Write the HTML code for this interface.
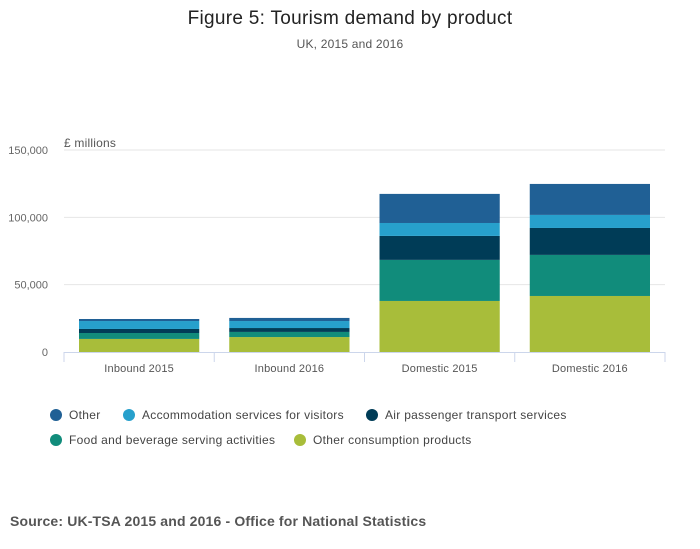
<!DOCTYPE html>
<html><head><meta charset="utf-8"><style>
body{margin:0;background:#fff;font-family:"Liberation Sans",sans-serif;}
#wrap{position:relative;width:700px;height:549px;overflow:hidden;}
</style></head><body>
<div id="wrap">
<svg id="chart" width="700" height="549">
<text x="350" y="24" text-anchor="middle" font-size="19" letter-spacing="0.3" fill="#222">Figure 5: Tourism demand by product</text>
<text x="350" y="48" text-anchor="middle" font-size="12" letter-spacing="0.2" fill="#555">UK, 2015 and 2016</text>
<text x="64" y="147" font-size="12" letter-spacing="0.2" fill="#555">£ millions</text>
<g id="grid"></g><g id="bars"></g><g id="axis"></g>
<g font-size="12" letter-spacing="0.3" fill="#444">
<g><circle cx="56" cy="415" r="6" fill="#206095"/><text x="69" y="419">Other</text></g>
<g><circle cx="129" cy="415" r="6" fill="#27a0cc"/><text x="142" y="419">Accommodation services for visitors</text></g>
<g><circle cx="372" cy="415" r="6" fill="#003c57"/><text x="385" y="419">Air passenger transport services</text></g>
<g><circle cx="56" cy="440" r="6" fill="#118c7b"/><text x="69" y="444">Food and beverage serving activities</text></g>
<g><circle cx="300" cy="440" r="6" fill="#a8bd3a"/><text x="313" y="444">Other consumption products</text></g>
</g>
<text x="10" y="526" font-size="14" letter-spacing="0.15" font-weight="bold" fill="#555">Source: UK-TSA 2015 and 2016 - Office for National Statistics</text>
</svg>
</div>
<script>
const categories=["Inbound 2015","Inbound 2016","Domestic 2015","Domestic 2016"];
const otherConsumption=[9.7,11.1,37.9,41.6];
const foodBeverage=[4.4,3.8,30.5,30.5];
const airPassenger=[3.0,2.9,17.8,20.0];
const accommodation=[5.9,5.2,9.6,9.7];
const other=[1.5,2.3,21.6,23.0];
const yTicks=[0,50000,100000,150000];
const yTickLabels=["0","50,000","100,000","150,000"];
const NS="http://www.w3.org/2000/svg";
const x0=64,x1=665,yBase=352,yTop=150,yMax=150000;
const y=v=>yBase-(v/yMax)*(yBase-yTop);
const band=(x1-x0)/categories.length;
const bx=i=>x0+i*band+15;
const bw=band-30;
function mk(tag,attrs,parent){const e=document.createElementNS(NS,tag);for(const k in attrs)e.setAttribute(k,attrs[k]);parent.appendChild(e);return e;}
const grid=document.getElementById('grid'),bars=document.getElementById('bars'),axis=document.getElementById('axis');
yTicks.forEach((t,i)=>{
  if(t>0){const l=mk('line',{x1:x0,x2:x1,y1:y(t),y2:y(t),stroke:'#e6e6e6'},grid);
  
  }
  const tx=mk('text',{x:48,y:y(t)+4,'text-anchor':'end','font-size':11,fill:'#666'},axis);
  tx.textContent=yTickLabels[i];
  
  
});
const series=[[otherConsumption,'#a8bd3a','other-consumption'],[foodBeverage,'#118c7b','food-beverage'],[airPassenger,'#003c57','air-passenger'],[accommodation,'#27a0cc','accommodation'],[other,'#206095','other']];
categories.forEach((c,i)=>{
  let cum=0;
  series.forEach(s=>{
    const v=s[0][i]*1000;
    const r=mk('rect',{x:bx(i),width:bw,y:y(cum+v),height:y(cum)-y(cum+v),fill:s[1]},bars);
    
    
    cum+=v;
  });
  const t=mk('text',{x:x0+i*band+band/2,y:372,'text-anchor':'middle','font-size':11,'letter-spacing':0.2,fill:'#555'},axis);
  t.textContent=c;
  
  
});
const al=mk('line',{x1:x0,x2:x1,y1:yBase+0.5,y2:yBase+0.5,stroke:'#ccd6eb'},axis);


for(let i=0;i<=categories.length;i++){
  const tk=mk('line',{x1:x0+i*band,x2:x0+i*band,y1:yBase,y2:yBase+10,stroke:'#ccd6eb'},axis);
  
  
}
</script>
</body></html>
